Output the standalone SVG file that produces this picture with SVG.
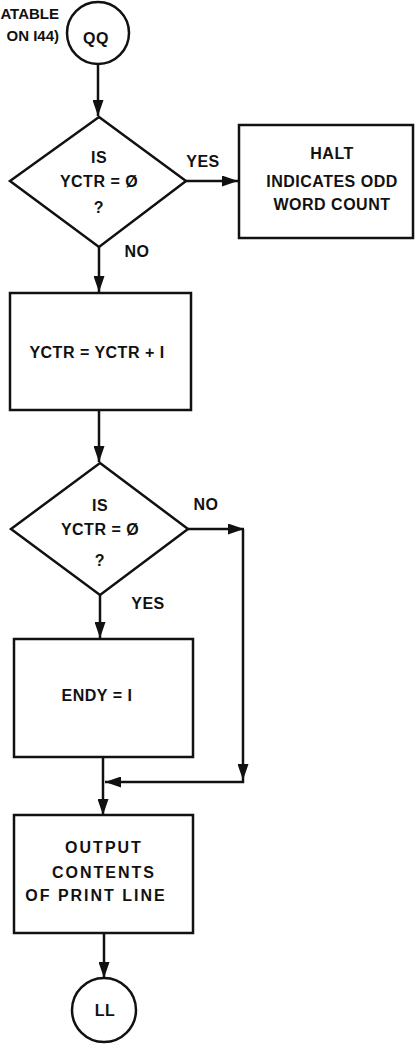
<svg xmlns="http://www.w3.org/2000/svg" width="416" height="1044" viewBox="0 0 416 1044">
<defs>
<style>
.s{fill:none;stroke:#111;stroke-width:2.5}
.n{fill:#fff;stroke:#111;stroke-width:2.5}
.t{font-family:"Liberation Sans",Arial,sans-serif;font-weight:bold;font-size:16px;fill:#111;text-anchor:middle;letter-spacing:0.5px}
.w{letter-spacing:2px}
.m{font-size:15px;letter-spacing:0;text-anchor:end}
</style>
<marker id="ah" viewBox="0 0 16 11" refX="16" refY="5.5" markerWidth="16" markerHeight="11" markerUnits="userSpaceOnUse" orient="auto">
<path d="M0,0 L16,5.5 L0,11 z" fill="#111"/>
</marker>
</defs>
<rect width="416" height="1044" fill="#fff"/>
<g id="connectors">
<path class="s" d="M98,64 V116" marker-end="url(#ah)"/>
<path class="s" d="M185,181 H238" marker-end="url(#ah)"/>
<path class="s" d="M99,247 V292" marker-end="url(#ah)"/>
<path class="s" d="M99,410 V462" marker-end="url(#ah)"/>
<path class="s" d="M100,595 V638" marker-end="url(#ah)"/>
<path class="s" d="M188,529 H244" marker-end="url(#ah)"/>
<path class="s" d="M243,529 V780" marker-end="url(#ah)"/>
<path class="s" d="M243,780 V782 H105" marker-end="url(#ah)"/>
<path class="s" d="M103,757 V815" marker-end="url(#ah)"/>
<path class="s" d="M104,933 V978" marker-end="url(#ah)"/>
<text class="t" x="203" y="167">YES</text>
<text class="t" x="137" y="257">NO</text>
<text class="t" x="206" y="510">NO</text>
<text class="t" x="148" y="609">YES</text>
</g>
<g id="note">
<text class="t m" x="59" y="19">ATABLE</text>
<text class="t m" x="59" y="41">ON I44)</text>
</g>
<g id="QQ">
<circle class="n" cx="98" cy="33" r="31"/>
<text class="t" x="96" y="44">QQ</text>
</g>
<g id="decision1">
<polygon class="n" points="99,117 186,181 99,247 10,181"/>
<text class="t" x="99" y="163">IS</text>
<text class="t" x="99" y="187">YCTR = Ø</text>
<text class="t" x="99" y="213">?</text>
</g>
<g id="halt">
<rect class="n" x="239" y="125" width="174" height="113"/>
<text class="t" x="332" y="159">HALT</text>
<text class="t" x="332" y="187">INDICATES ODD</text>
<text class="t" x="332" y="210">WORD COUNT</text>
</g>
<g id="increment">
<rect class="n" x="10" y="293" width="181" height="117"/>
<text class="t" x="97" y="358">YCTR = YCTR + I</text>
</g>
<g id="decision2">
<polygon class="n" points="100,463 188,529 100,595 11,529"/>
<text class="t" x="100" y="511">IS</text>
<text class="t" x="100" y="535">YCTR = Ø</text>
<text class="t" x="100" y="566">?</text>
</g>
<g id="endy">
<rect class="n" x="14" y="639" width="179" height="118"/>
<text class="t" x="97" y="701">ENDY = I</text>
</g>
<g id="output">
<rect class="n" x="14" y="815" width="179" height="118"/>
<text class="t w" x="104" y="853">OUTPUT</text>
<text class="t w" x="104" y="878">CONTENTS</text>
<text class="t w" x="96" y="901">OF PRINT LINE</text>
</g>
<g id="LL">
<circle class="n" cx="104" cy="1010" r="32"/>
<text class="t" x="105" y="1016">LL</text>
</g>
</svg>
